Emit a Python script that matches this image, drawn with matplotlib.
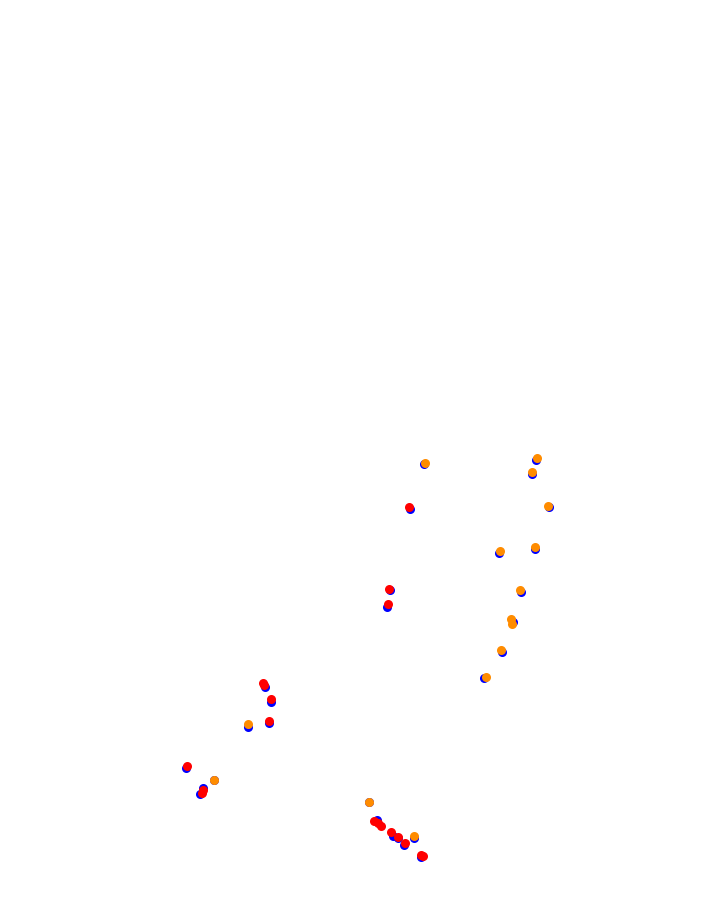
import matplotlib
matplotlib.use("Agg")
import matplotlib.pyplot as plt

# positions (pixel units, y grows downward)
blue_x = [423.7, 535.7, 532.0, 410.0, 549.0, 498.7, 534.7, 390.0, 387.0, 521.0,
          512.7, 502.0, 484.3, 265.3, 271.0, 268.7, 248.3, 185.7, 214.0, 203.0,
          200.3, 369.0, 376.7, 392.7, 398.0, 413.7, 403.7, 421.0]
blue_y = [464.3, 460.0, 474.3, 509.0, 507.0, 553.0, 549.3, 590.3, 606.7, 592.0,
          622.0, 652.0, 678.3, 687.3, 701.7, 722.7, 726.7, 768.0, 780.0, 788.3,
          794.0, 802.0, 820.0, 835.7, 837.5, 838.3, 845.0, 857.3]

red_x = [409.0, 389.0, 388.3, 263.0, 264.3, 271.0, 268.7, 187.3, 202.5, 201.5,
         374.0, 377.5, 380.7, 391.0, 397.7, 405.0, 421.0, 423.3]
red_y = [506.7, 589.0, 604.3, 683.3, 685.3, 699.0, 720.7, 765.7, 790.0, 792.5,
         820.7, 823.0, 825.7, 831.7, 836.7, 843.3, 855.0, 855.7]

orange_x = [425.0, 537.0, 532.0, 548.0, 500.0, 535.0, 520.0, 510.7, 511.7, 501.0,
            485.7, 247.7, 214.0, 369.0, 413.7]
orange_y = [462.7, 457.7, 472.0, 505.7, 550.7, 546.7, 589.7, 619.3, 624.0, 649.7,
            676.7, 723.7, 779.7, 802.0, 835.7]

fig = plt.figure(figsize=(7.07, 9.11), dpi=100)
ax = fig.add_axes([0, 0, 1, 1])

ax.plot(blue_x, blue_y, "o", color="#0000ff", markersize=6.5, markeredgewidth=0)
ax.plot(red_x, red_y, "o", color="#ff0000", markersize=6.5, markeredgewidth=0)
ax.plot(orange_x, orange_y, "o", color="#ff8c00", markersize=6.5, markeredgewidth=0)

ax.set_xlim(0, 707)
ax.set_ylim(911, 0)
ax.axis("off")

fig.savefig("out.png", dpi=100, facecolor="white")
